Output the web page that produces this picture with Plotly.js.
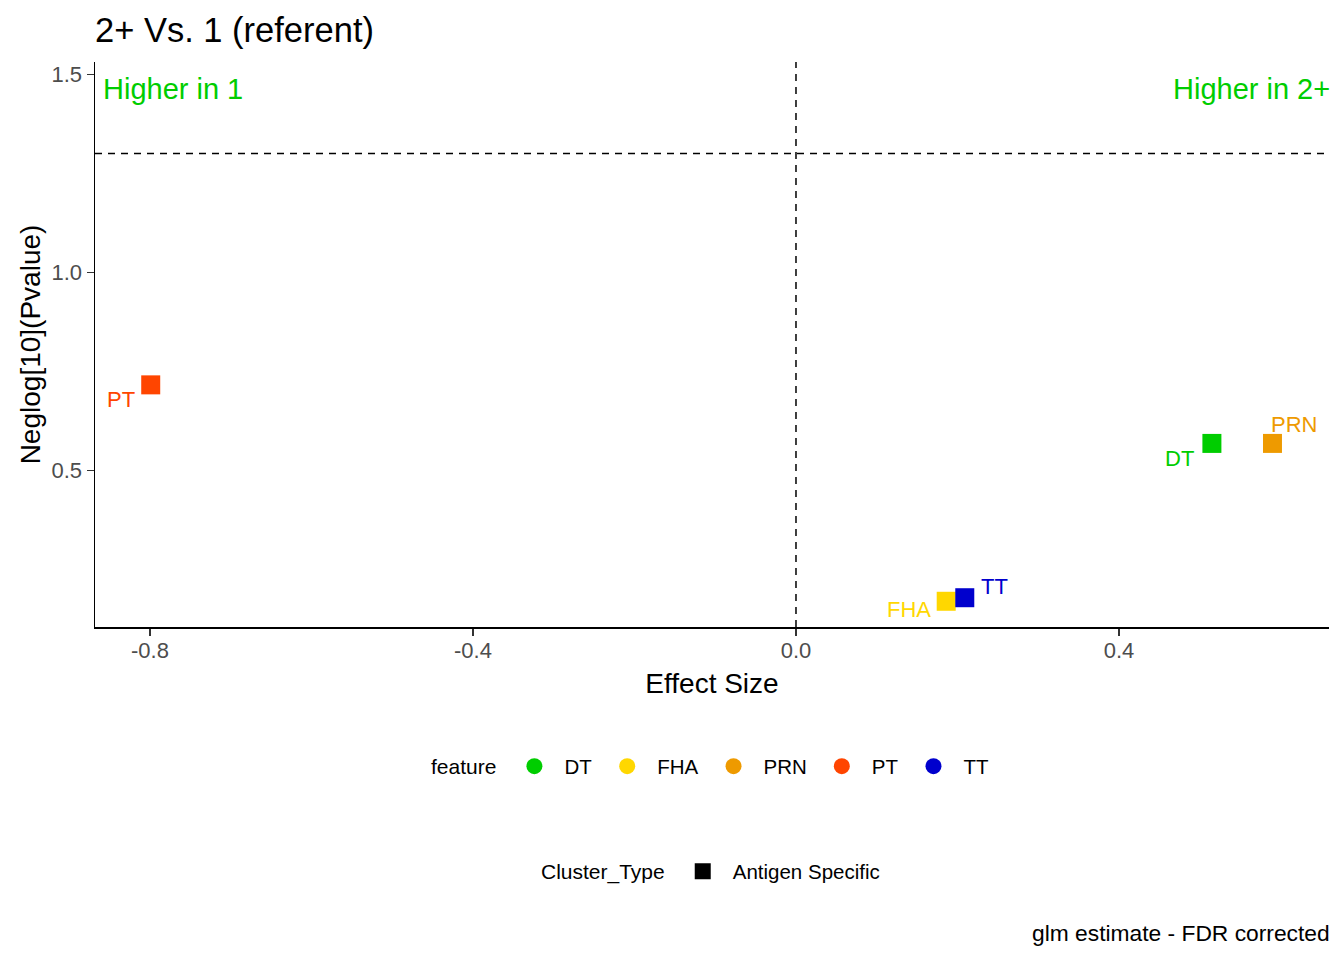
<!DOCTYPE html>
<html>
<head>
<meta charset="utf-8">
<script src="https://cdn.plot.ly/plotly-3.0.1.min.js"></script>
<style>
  html, body { margin: 0; padding: 0; background: #fff; }
  #chart { width: 1344px; height: 960px; }
</style>
</head>
<body>
<div id="chart"></div>
<script>
// Datos
var features = ['DT', 'FHA', 'PRN', 'PT', 'TT'];
var effectSize = [0.515, 0.186, 0.590, -0.799, 0.209];
var neglogP = [0.568, 0.169, 0.568, 0.716, 0.178];
var featureColors = ['#00CD00', '#FFD700', '#EE9A00', '#FF4500', '#0000CD'];
var clusterTypes = ['Antigen Specific'];
var pThreshold = -Math.log10(0.05);

// Desplazamiento de cada etiqueta respecto a su punto (estilo, px)
var labelShift = {
    DT:  { xanchor: 'right', dx: -16, dy: -15 },
    FHA: { xanchor: 'right', dx: -13, dy: -8 },
    PRN: { xanchor: 'left',  dx: -3,  dy: 19 },
    PT:  { xanchor: 'right', dx: -14, dy: -15 },
    TT:  { xanchor: 'left',  dx: 14,  dy: 11 }
};

var FONT = 'Liberation Sans, Arial, sans-serif';

var traces = [];

// Puntos (cuadrados), uno por feature
features.forEach(function(f, i) {
    traces.push({
        x: [effectSize[i]],
        y: [neglogP[i]],
        mode: 'markers',
        type: 'scatter',
        name: f,
        marker: { symbol: 'square', size: 19, color: featureColors[i] },
        showlegend: false,
        hoverinfo: 'x+y+name'
    });
});

// Entradas de leyenda: feature (círculos)
features.forEach(function(f, i) {
    traces.push({
        x: [null],
        y: [null],
        mode: 'markers',
        type: 'scatter',
        name: f,
        marker: { symbol: 'circle', size: 16, color: featureColors[i] },
        legend: 'legend',
        showlegend: true
    });
});

// Entrada de leyenda: Cluster_Type (cuadrado negro)
clusterTypes.forEach(function(c) {
    traces.push({
        x: [null],
        y: [null],
        mode: 'markers',
        type: 'scatter',
        name: c,
        marker: { symbol: 'square', size: 16, color: '#000000' },
        legend: 'legend2',
        showlegend: true
    });
});

// Etiquetas de los puntos
var annotations = features.map(function(f, i) {
    var s = labelShift[f];
    return {
        x: effectSize[i],
        y: neglogP[i],
        xref: 'x',
        yref: 'y',
        text: f,
        showarrow: false,
        xanchor: s.xanchor,
        yanchor: 'middle',
        xshift: s.dx,
        yshift: s.dy,
        font: { family: FONT, size: 22, color: featureColors[i] }
    };
});

annotations.push({
    xref: 'paper', yref: 'paper', x: 0, y: 1, xanchor: 'left', yanchor: 'middle',
    xshift: 6, yshift: -27, text: 'Higher in 1', showarrow: false,
    font: { family: FONT, size: 29, color: '#00CD00' }
});
annotations.push({
    xref: 'paper', yref: 'paper', x: 1, y: 1, xanchor: 'right', yanchor: 'middle',
    xshift: 3, yshift: -27, text: 'Higher in 2+', showarrow: false,
    font: { family: FONT, size: 29, color: '#00CD00' }
});
annotations.push({
    xref: 'paper', yref: 'paper', x: 1, y: -0.5424, xanchor: 'right', yanchor: 'middle',
    xshift: 3, text: 'glm estimate - FDR corrected', showarrow: false,
    font: { family: FONT, size: 22.8, color: '#000000' }
});

var legendBase = {
    orientation: 'h',
    x: 0.5, xanchor: 'center',
    yanchor: 'middle',
    itemwidth: 50,
    font: { family: FONT, size: 20.5, color: '#000000' },
    bgcolor: 'rgba(0,0,0,0)'
};

var layout = {
    width: 1344,
    height: 960,
    paper_bgcolor: '#ffffff',
    plot_bgcolor: '#ffffff',
    font: { family: FONT, color: '#000000' },
    margin: { l: 95, r: 15, t: 62, b: 333 },
    title: {
        text: '2+ Vs. 1 (referent)',
        x: 0, xref: 'paper', xanchor: 'left',
        y: 0.969, yref: 'container', yanchor: 'middle',
        font: { family: FONT, size: 34.5, color: '#000000' }
    },
    xaxis: {
        title: { text: 'Effect Size', font: { family: FONT, size: 28, color: '#000000' }, standoff: 11 },
        range: [-0.868, 0.660],
        tickvals: [-0.8, -0.4, 0, 0.4],
        ticktext: ['-0.8', '-0.4', '0.0', '0.4'],
        ticks: 'outside', ticklen: 7, tickwidth: 1.5, tickcolor: '#333333',
        ticklabelstandoff: -4,
        tickfont: { family: FONT, size: 22, color: '#4D4D4D' },
        showline: true, linecolor: '#000000', linewidth: 1.5,
        showgrid: false, zeroline: false,
        automargin: true
    },
    yaxis: {
        title: { text: 'Neglog[10](Pvalue)', font: { family: FONT, size: 28, color: '#000000' }, standoff: 2 },
        range: [0.104, 1.532],
        tickvals: [0.5, 1.0, 1.5],
        ticktext: ['0.5', '1.0', '1.5'],
        ticks: 'outside', ticklen: 7, tickwidth: 1.5, tickcolor: '#333333',
        tickfont: { family: FONT, size: 22, color: '#4D4D4D' },
        showline: true, linecolor: '#000000', linewidth: 1.5,
        showgrid: false, zeroline: false,
        automargin: true
    },
    shapes: [
        {
            type: 'line', xref: 'x', yref: 'paper', x0: 0, x1: 0, y0: 0, y1: 1,
            line: { color: '#000000', width: 1.5, dash: '7px,6px' }
        },
        {
            type: 'line', xref: 'paper', yref: 'y', x0: 0, x1: 1, y0: pThreshold, y1: pThreshold,
            line: { color: '#000000', width: 1.5, dash: '7px,6px' }
        }
    ],
    legend: Object.assign({}, legendBase, {
        y: -0.2467,
        title: { text: 'feature', side: 'left', font: { family: FONT, size: 21 } }
    }),
    legend2: Object.assign({}, legendBase, {
        y: -0.4326,
        title: { text: 'Cluster_Type', side: 'left', font: { family: FONT, size: 21 } }
    }),
    annotations: annotations,
    showlegend: true
};

Plotly.newPlot('chart', traces, layout, { displayModeBar: false, staticPlot: true });
</script>
</body>
</html>
